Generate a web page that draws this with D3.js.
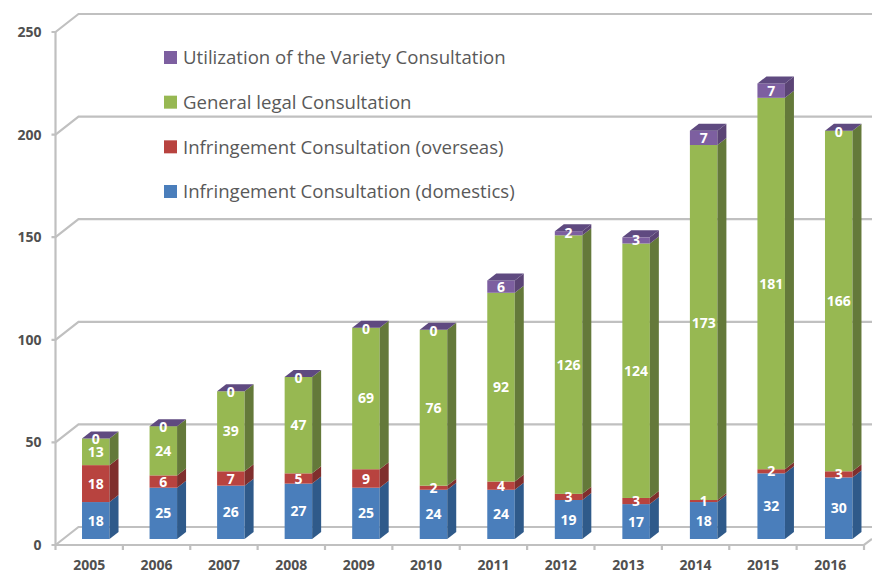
<!DOCTYPE html>
<html>

<head>
    <meta charset="utf-8">
    <style>
        html, body { margin: 0; padding: 0; background: #fff; }
        svg { display: block; }
        text { font-family: "Open Sans", sans-serif; }
        .grid { stroke: #c0c0c0; stroke-width: 2.2px; fill: none; }
        .tick-label { font-size: 14px; font-weight: 700; fill: #505050; }
        .value { font-size: 14px; font-weight: 700; fill: #fff; text-anchor: middle; }
        .legend-label { font-size: 18.6px; fill: #595959; }
    </style>
</head>

<body>
    <script src="https://cdn.jsdelivr.net/npm/d3@7"></script>
    <script>
        var years = ["2005", "2006", "2007", "2008", "2009", "2010", "2011", "2012", "2013", "2014", "2015", "2016"];
        var domestics = [18, 25, 26, 27, 25, 24, 24, 19, 17, 18, 32, 30];
        var overseas = [18, 6, 7, 5, 9, 2, 4, 3, 3, 1, 2, 3];
        var general = [13, 24, 39, 47, 69, 76, 92, 126, 124, 173, 181, 166];
        var variety = [0, 0, 0, 0, 0, 0, 6, 2, 3, 7, 7, 0];
        var yTicks = [0, 50, 100, 150, 200, 250];

        // bottom to top, the legend reads the other way
        var series = [
            { name: "Infringement Consultation (domestics)", values: domestics, front: "#4a7ebb", side: "#2f5a8a" },
            { name: "Infringement Consultation (overseas)", values: overseas, front: "#b8433f", side: "#7f2f2d" },
            { name: "General legal Consultation", values: general, front: "#97b852", side: "#64793a" },
            { name: "Utilization of the Variety Consultation", values: variety, front: "#7d5fa0", side: "#5b4475" }
        ];

        var width = 872, height = 573;

        // front left corner of the floor, and how far the back wall is shifted
        var x0 = 55.5, x1 = 864, yBase = 545, yTop = 32;
        var wallDx = 23, wallDy = -18;

        // bars stand part way back on the floor, with their own shallow depth
        var barLift = 6, depthX = 9, depthY = 7, barWidth = 27.5;

        var x = d3.scaleBand().domain(years).range([x0, x1]);
        // the bars sit further back so they run on a slightly wider band than the floor ticks
        var xBar = d3.scaleBand().domain(years).range([62, 872.5]);
        var y = d3.scaleLinear().domain([0, 250]).range([yBase, yTop]);

        var svg = d3.select("body").append("svg")
            .attr("width", width)
            .attr("height", height);

        // Walls: back gridlines, diagonal on the side wall, then the front axes
        var walls = svg.append("g");
        yTicks.forEach(function (t) {
            walls.append("path")
                .attr("class", "grid")
                .attr("d", "M" + (x0 - 4) + "," + y(t) + "L" + x0 + "," + y(t) +
                    "L" + (x0 + wallDx) + "," + (y(t) + wallDy) + "L" + width + "," + (y(t) + wallDy));
        });
        walls.append("path")
            .attr("class", "grid")
            .attr("d", "M" + x0 + "," + yTop + "V" + yBase + "H" + x1 + "L" + width + "," + (yBase - 6));
        years.concat(["end"]).forEach(function (d, i) {
            var tx = x0 + i * x.bandwidth();
            walls.append("line")
                .attr("class", "grid")
                .attr("x1", tx).attr("x2", tx)
                .attr("y1", yBase).attr("y2", yBase + 5);
        });

        // Axis labels
        var yAxis = svg.append("g")
            .attr("transform", "translate(" + x0 + ",0)")
            .call(d3.axisLeft(y).tickValues(yTicks).tickSize(0).tickPadding(14));
        var xAxis = svg.append("g")
            .attr("transform", "translate(0," + yBase + ")")
            .call(d3.axisBottom(x).tickSize(0).tickPadding(15));
        [yAxis, xAxis].forEach(function (a) {
            a.select(".domain").remove();
            a.selectAll("text").attr("class", "tick-label").attr("font-family", null).attr("font-size", null);
        });

        // Bars, stacked with d3.stack on the series arrays
        var rows = years.map(function (yr, i) {
            var row = { year: yr };
            series.forEach(function (s) { row[s.name] = s.values[i]; });
            return row;
        });
        var stacked = d3.stack().keys(series.map(function (s) { return s.name; }))(rows);

        function barY(v) { return y(v) - barLift; }

        years.forEach(function (yr, i) {
            var g = svg.append("g");
            var left = xBar(yr) + xBar.bandwidth() / 2 - barWidth / 2;
            var right = left + barWidth;

            stacked.forEach(function (layer, k) {
                var top = barY(layer[i][1]), bottom = barY(layer[i][0]);
                if (bottom - top > 0) {
                    g.append("rect")
                        .attr("x", left).attr("y", top)
                        .attr("width", barWidth).attr("height", bottom - top)
                        .attr("fill", series[k].front);
                    g.append("path")
                        .attr("d", "M" + right + "," + bottom + "V" + top +
                            "l" + depthX + "," + (-depthY) + "V" + (bottom - depthY) + "Z")
                        .attr("fill", series[k].side);
                }
            });

            // lid of the bar, always in the top series colour
            var lid = barY(stacked[3][i][1]);
            g.append("path")
                .attr("d", "M" + left + "," + lid + "H" + right +
                    "l" + depthX + "," + (-depthY) + "H" + (left + depthX) + "Z")
                .attr("fill", "#5f4a80");

            stacked.forEach(function (layer, k) {
                var v = series[k].values[i];
                var cy = (barY(layer[i][0]) + barY(layer[i][1])) / 2;
                g.append("text")
                    .attr("class", "value")
                    .attr("x", left + barWidth / 2)
                    .attr("y", v === 0 ? cy + 1 : cy)
                    .attr("dy", "0.36em")
                    .text(v);
            });
        });

        // Legend
        var legendY = d3.scalePoint()
            .domain(series.map(function (s) { return s.name; }).reverse())
            .range([57.5, 191.5]);
        series.forEach(function (s) {
            svg.append("rect")
                .attr("x", 164).attr("y", legendY(s.name) - 6.5)
                .attr("width", 13).attr("height", 13)
                .attr("fill", s.front);
            svg.append("text")
                .attr("class", "legend-label")
                .attr("x", 183).attr("y", legendY(s.name))
                .attr("dy", "0.36em")
                .text(s.name);
        });
    </script>
</body>

</html>
